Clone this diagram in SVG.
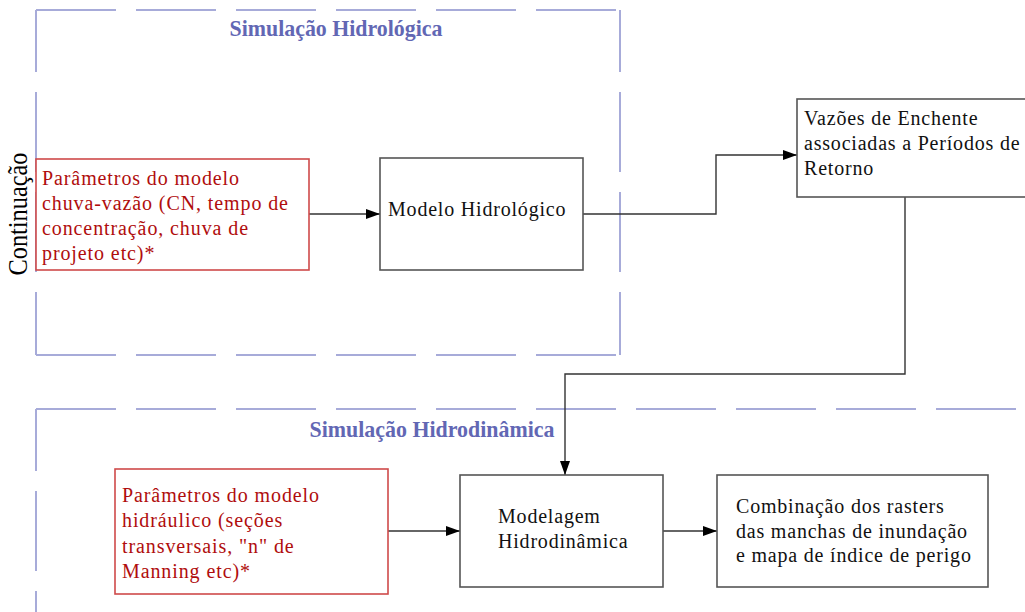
<svg xmlns="http://www.w3.org/2000/svg" width="1025" height="612" viewBox="0 0 1025 612">
<defs>
<style>
text{font-family:'Liberation Serif','Tinos','DejaVu Serif','Noto Serif',serif}
.dash{stroke:#a7abd9;stroke-width:2;fill:none;stroke-dasharray:80 20}
.dv{stroke-dashoffset:18}
.title{font-weight:bold;font-size:23px;fill:#6267b4}
.box{fill:#fff;stroke:#555;stroke-width:1.6}
.rbox{fill:#fff;stroke:#cf4a4a;stroke-width:1.6}
.t{font-size:20px;fill:#111;letter-spacing:0.8px}
.rt{font-size:20px;fill:#b00d0d;letter-spacing:0.9px}
.conn{stroke:#333;stroke-width:1.4;fill:none}
</style>
<marker id="arr" viewBox="0 0 14 10" refX="14" refY="5" markerWidth="14" markerHeight="10" markerUnits="userSpaceOnUse" orient="auto">
<path d="M0,0 L14,5 L0,10 Z" fill="#000"/>
</marker>
</defs>
<rect width="1025" height="612" fill="#fff"/>

<g id="grupo-hidrologica">
<line class="dash" x1="36" y1="10" x2="620" y2="10"/>
<line class="dash dv" x1="36" y1="10" x2="36" y2="355"/>
<line class="dash dv" x1="620" y1="10" x2="620" y2="355"/>
<line class="dash" x1="36" y1="355" x2="620" y2="355"/>
<text class="title" x="336" y="36" text-anchor="middle" textLength="213" lengthAdjust="spacingAndGlyphs">Simulação Hidrológica</text>
</g>

<g id="grupo-hidrodinamica">
<line class="dash" x1="36" y1="409" x2="1025" y2="409"/>
<line class="dash dv" x1="36" y1="409" x2="36" y2="612"/>
<text class="title" x="432" y="437" text-anchor="middle" textLength="245" lengthAdjust="spacingAndGlyphs">Simulação Hidrodinâmica</text>
</g>

<g id="continuacao">
<text x="27" y="214" transform="rotate(-90 27 214)" text-anchor="middle" font-size="28" fill="#000" textLength="123" lengthAdjust="spacingAndGlyphs">Continuação</text>
</g>

<g id="connectors">
<line class="conn" x1="309" y1="214" x2="380" y2="214" marker-end="url(#arr)"/>
<polyline class="conn" points="583,214 716,214 716,155 797,155" marker-end="url(#arr)"/>
<polyline class="conn" points="905,197 905,374 565,374 565,475" marker-end="url(#arr)"/>
<line class="conn" x1="388" y1="531" x2="460" y2="531" marker-end="url(#arr)"/>
<line class="conn" x1="663" y1="531" x2="717" y2="531" marker-end="url(#arr)"/>
</g>

<g id="parametros-chuva-vazao">
<rect class="rbox" x="36" y="159" width="273" height="111"/>
<text class="rt" x="42" y="185">Parâmetros do modelo</text>
<text class="rt" x="42" y="210">chuva-vazão (CN, tempo de</text>
<text class="rt" x="42" y="235">concentração, chuva de</text>
<text class="rt" x="42" y="260">projeto etc)*</text>
</g>

<g id="modelo-hidrologico">
<rect class="box" x="380" y="158" width="203" height="112"/>
<text class="t" x="388" y="216">Modelo Hidrológico</text>
</g>

<g id="vazoes-enchente">
<rect class="box" x="797" y="99" width="240" height="98"/>
<text class="t" x="804" y="125" letter-spacing="0.3">Vazões de Enchente</text>
<text class="t" x="804" y="150" letter-spacing="0.7">associadas a Períodos de</text>
<text class="t" x="804" y="175" letter-spacing="0.3">Retorno</text>
</g>

<g id="parametros-hidraulico">
<rect class="rbox" x="115" y="469" width="273" height="125"/>
<text class="rt" x="122" y="502">Parâmetros do modelo</text>
<text class="rt" x="122" y="527">hidráulico (seções</text>
<text class="rt" x="122" y="553">transversais, "n" de</text>
<text class="rt" x="122" y="578">Manning etc)*</text>
</g>

<g id="modelagem-hidrodinamica">
<rect class="box" x="460" y="475" width="203" height="112"/>
<text class="t" x="498" y="523">Modelagem</text>
<text class="t" x="498" y="548">Hidrodinâmica</text>
</g>

<g id="combinacao-rasters">
<rect class="box" x="717" y="475" width="271" height="112"/>
<text class="t" x="736" y="513">Combinação dos rasters</text>
<text class="t" x="736" y="538">das manchas de inundação</text>
<text class="t" x="736" y="562">e mapa de índice de perigo</text>
</g>
</svg>
